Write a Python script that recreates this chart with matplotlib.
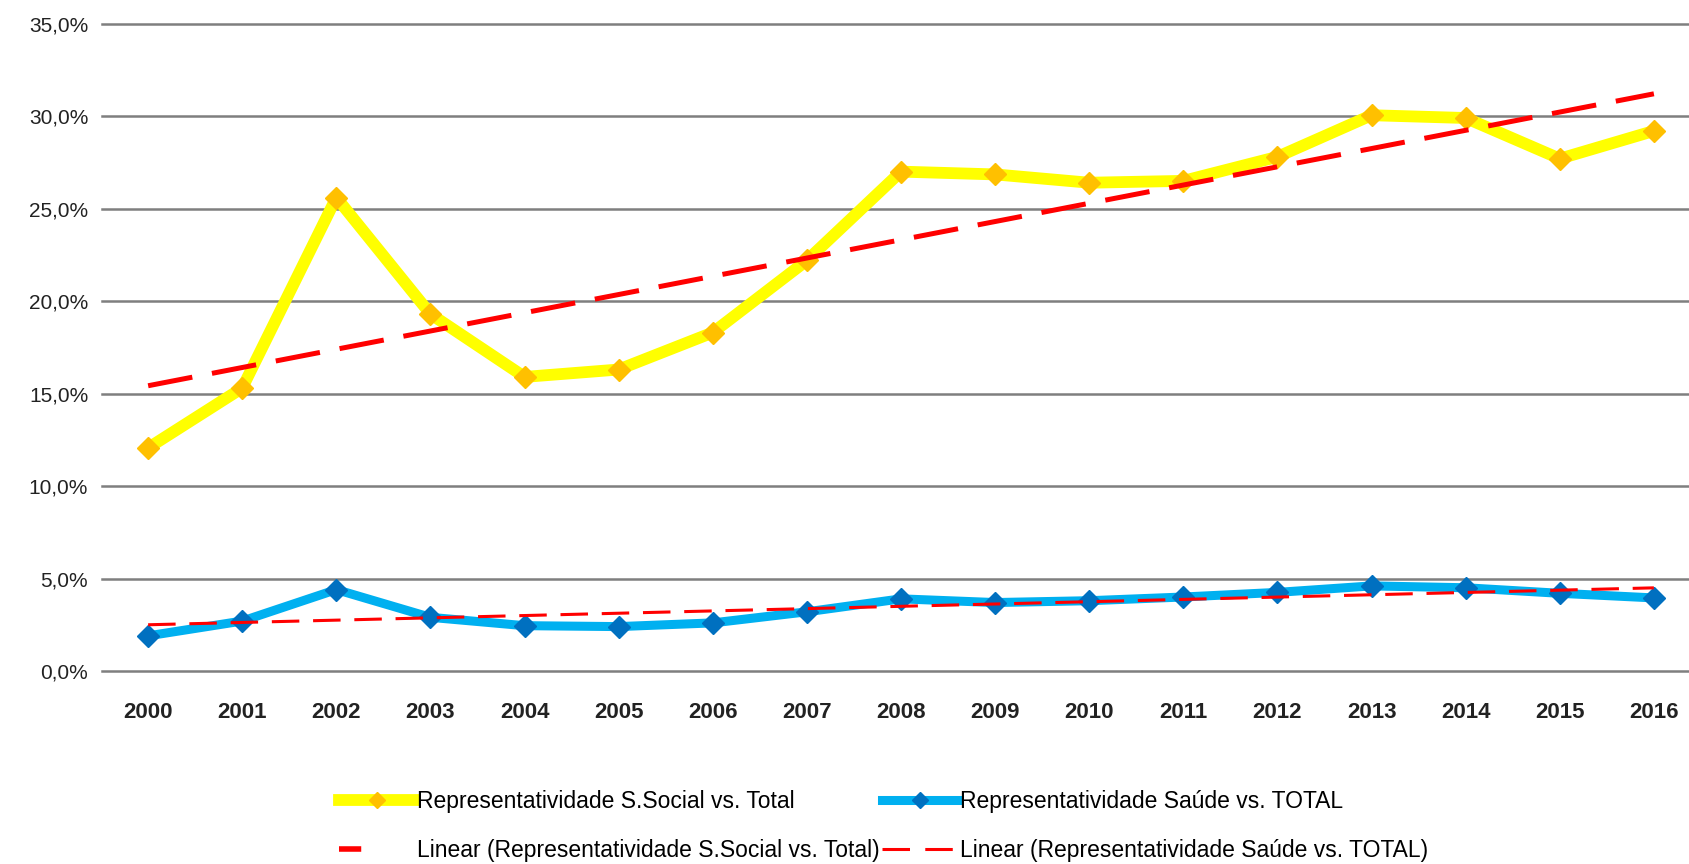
import numpy as np
import matplotlib
matplotlib.use("Agg")
import matplotlib.pyplot as plt
from matplotlib.lines import Line2D
from matplotlib.ticker import FuncFormatter

plt.rcParams['font.family'] = ['Liberation Sans', 'DejaVu Sans']

# dados
anos = ["2000", "2001", "2002", "2003", "2004", "2005", "2006", "2007", "2008",
        "2009", "2010", "2011", "2012", "2013", "2014", "2015", "2016"]
social = [12.06, 15.3, 25.6, 19.3, 15.9, 16.3, 18.3, 22.2, 27.0,
          26.85, 26.4, 26.5, 27.8, 30.05, 29.9, 27.7, 29.2]
saude = [1.9, 2.7, 4.4, 2.9, 2.45, 2.4, 2.6, 3.2, 3.9,
         3.7, 3.8, 4.0, 4.25, 4.6, 4.5, 4.2, 3.95]
y_ticks = [0, 5, 10, 15, 20, 25, 30, 35]

x = np.arange(len(anos))

# linhas de tendência (regressão linear, como no Excel)
tend_social = np.polyval(np.polyfit(x, social, 1), x)
tend_saude = np.polyval(np.polyfit(x, saude, 1), x)

fig = plt.figure(figsize=(16.89, 8.64), dpi=100)
ax = fig.add_axes([0.0604, 0.2234, 0.945, 0.7492])

for t in y_ticks:
    ax.axhline(t, color="#7f7f7f", lw=1.8, zorder=0, clip_on=False)

l1, = ax.plot(x, social, color="#FFFF00", lw=8.5, marker="D", markersize=11,
              markerfacecolor="#FFC000", markeredgecolor="#FFC000",
              label="Representatividade S.Social vs. Total", zorder=3)
l2, = ax.plot(x, saude, color="#00B0F0", lw=6.5, marker="D", markersize=11.5,
              markerfacecolor="#0070C0", markeredgecolor="#0070C0",
              label="Representatividade Saúde vs. TOTAL", zorder=3)
ax.plot(x, tend_social, color="#FF0000", lw=3.6, dashes=(9, 4), zorder=4)
ax.plot(x, tend_saude, color="#FF0000", lw=2.2, dashes=(9, 4.5), zorder=4)

# entradas da legenda para as tendências
h3 = Line2D([], [], color="#FF0000", lw=4, dashes=(4, 30),
            label="Linear (Representatividade S.Social vs. Total)")
h4 = Line2D([], [], color="#FF0000", lw=2.2, dashes=(9, 5),
            label="Linear (Representatividade Saúde vs. TOTAL)")

ax.set_xlim(-0.49, 16.47)
ax.set_ylim(0, 35)
ax.set_yticks(y_ticks)
ax.yaxis.set_major_formatter(FuncFormatter(lambda v, p: f"{v:.1f}%".replace(".", ",")))
ax.set_xticks(x)
ax.set_xticklabels(anos, fontweight="bold")
ax.tick_params(axis="both", length=0, colors="#222222")
ax.tick_params(axis="x", pad=22, labelsize=16)
ax.tick_params(axis="y", pad=10, labelsize=15)
for s in ax.spines.values():
    s.set_visible(False)

fig.legend(handles=[l1, h3, l2, h4], ncol=2, loc="center",
           bbox_to_anchor=(0.523, 0.044), frameon=False, fontsize=16.5,
           handlelength=3.3, handletextpad=0.1, columnspacing=0.1,
           labelspacing=1.15, markerscale=0.75)

plt.savefig("out.png", dpi=100)
